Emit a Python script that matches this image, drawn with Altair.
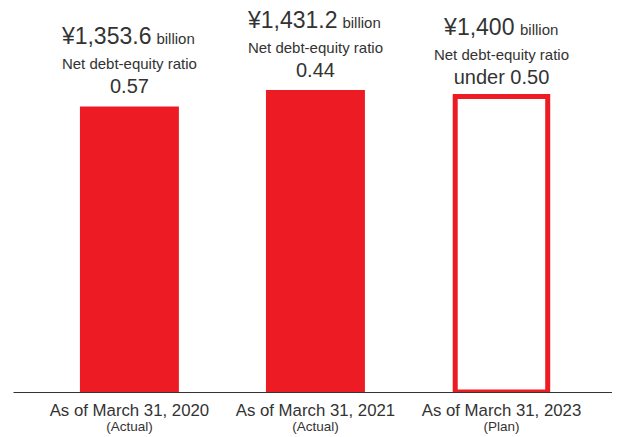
import altair as alt
import pandas as pd

categories = ["As of March 31, 2020", "As of March 31, 2021", "As of March 31, 2023"]
status = ["Actual", "Actual", "Plan"]
debt = [1353.6, 1431.2, 1400]
debt_labels = ["¥1,353.6", "¥1,431.2", "¥1,400"]
ratio_values = ["0.57", "0.44", "under 0.50"]
ratio_title = "Net debt-equity ratio"
unit = "billion"

df = pd.DataFrame({
    "category": categories,
    "status": status,
    "debt": debt,
    "debt_label": debt_labels,
    "ratio": ratio_values,
})
df["sub"] = "(" + df["status"] + ")"
df["unit"] = unit
df["ratio_title"] = ratio_title

RED = "#ED1C24"
TXT = "#333333"
FONT = "Liberation Sans"

x = alt.X("category:N", sort=categories,
          scale=alt.Scale(paddingInner=0.468, paddingOuter=0.344, align=0.523),
          axis=alt.Axis(title=None, labels=False, ticks=False, domainColor="#333333",
                        domainWidth=1, zindex=1, grid=False))
y = alt.Y("debt:Q", scale=alt.Scale(domain=[0, 1820], nice=False, zero=True), axis=None)

base = alt.Chart(df).encode(x=x, y=y)
actual = base.transform_filter(alt.datum.status == "Actual")
plan = base.transform_filter(alt.datum.status == "Plan")

bars = actual.mark_bar(color=RED)
plan_bar = plan.mark_bar(fill="white", stroke=RED, strokeWidth=5, width=92.5, clip=True)

val_a = actual.mark_text(align="right", baseline="alphabetic", dx=22, dy=-62,
                         fontSize=23, font=FONT, color=TXT).encode(text="debt_label:N")
val_p = plan.mark_text(align="right", baseline="alphabetic", dx=13, dy=-62,
                       fontSize=23, font=FONT, color=TXT).encode(text="debt_label:N")
unit_a = actual.mark_text(align="left", baseline="alphabetic", dx=27, dy=-62,
                          fontSize=15, font=FONT, color=TXT).encode(text="unit:N")
unit_p = plan.mark_text(align="left", baseline="alphabetic", dx=18.5, dy=-62,
                        fontSize=15, font=FONT, color=TXT).encode(text="unit:N")
rtitle = base.mark_text(align="center", baseline="alphabetic", dy=-37,
                        fontSize=15, font=FONT, color=TXT).encode(text="ratio_title:N")
rval = base.mark_text(align="center", baseline="alphabetic", dy=-13,
                      fontSize=20, font=FONT, color=TXT).encode(text="ratio:N")

xlab = alt.Chart(df).mark_text(align="center", baseline="alphabetic", dy=24,
                               fontSize=16.8, font=FONT, color=TXT).encode(
    x=x, y=alt.datum(0), text="category:N")
xsub = alt.Chart(df).mark_text(align="center", baseline="alphabetic", dy=39,
                               fontSize=13.5, font=FONT, color=TXT).encode(
    x=x, y=alt.datum(0), text="sub:N")

chart = alt.layer(bars, plan_bar, val_a, val_p, unit_a, unit_p, rtitle, rval, xlab, xsub).properties(
    width=599, height=384,
    background="white",
    autosize=alt.AutoSizeParams(type="none"),
    padding={"left": 5, "top": 0, "right": 0, "bottom": 42},
).configure_view(strokeWidth=0, stroke=None)

chart.save("out.html", embed_options={"renderer": "svg", "actions": False})
